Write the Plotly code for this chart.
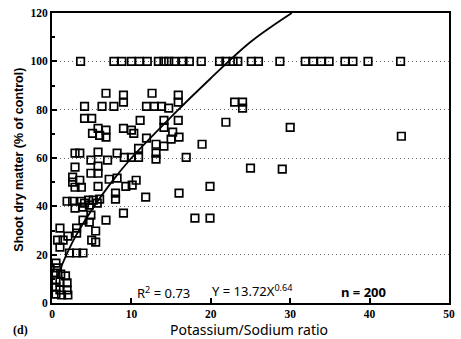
import plotly.graph_objects as go

# ---- data ----
# points at 100 % of control
top_x = [3.6, 7.8, 8.8, 10.0, 11.0, 12.0, 13.4, 14.1, 14.7, 15.4, 16.5, 17.3, 18.8,
         21.1, 21.9, 22.8, 23.4, 25.1, 26.0, 28.7, 31.9, 32.9, 33.9, 34.9, 36.9,
         37.9, 39.8, 43.9]
top_y = [100] * len(top_x)

pts_x = [6.8, 9.0, 9.0, 12.6, 15.9, 15.9, 4.1, 6.3, 7.8, 11.9, 12.9, 13.8, 14.7,
         23.0, 24.0, 24.0,
         4.1, 5.0, 11.1, 14.1, 15.9, 21.9, 30.0, 14.1, 5.8, 6.8, 5.1, 6.0, 6.8,
         9.0, 10.0, 10.3, 15.2, 16.0, 15.0, 11.9, 44.0,
         2.9, 3.5, 5.8, 4.9, 7.0, 8.2, 9.1, 10.0, 10.9, 10.9, 13.1, 13.1, 14.1,
         13.1, 18.9, 16.9,
         2.9, 5.8, 4.9, 5.8, 2.6, 2.6, 3.5, 3.7, 2.9, 5.8, 7.2, 8.2, 9.3, 10.1,
         10.6, 8.0, 8.0, 11.8, 25.0, 29.0, 19.9, 16.0, 1.9, 2.6, 3.7, 4.6, 5.2,
         6.0, 4.1, 5.7, 2.9, 3.9, 4.7,
         9.0, 3.9, 4.9, 4.7, 6.8, 18.0, 19.9, 1.0, 3.1, 3.1, 2.0, 5.5, 5.0, 5.5,
         0.7, 1.4, 1.0, 2.2, 3.1, 3.9,
         0.5, 0.7, 0.5, 1.1, 1.7, 0.5, 1.0, 1.9, 0.5, 1.0, 1.9, 0.5, 1.2, 2.0]
pts_y = [86.8, 86.0, 83.1, 86.8, 86.0, 83.1, 81.4, 81.4, 81.4, 81.4, 81.4, 81.4, 80.6,
         83.1, 83.1, 80.6,
         76.4, 76.4, 75.6, 75.6, 75.6, 74.8, 72.7, 72.7, 72.3, 71.5, 70.2, 69.4, 68.6,
         72.3, 71.5, 70.2, 70.7, 68.6, 67.8, 68.2, 69.0,
         62.0, 62.0, 62.4, 59.1, 59.1, 62.0, 60.3, 60.3, 60.3, 64.0, 62.0, 59.5, 64.9,
         65.7, 65.7, 60.3,
         56.2, 56.6, 53.7, 53.7, 52.1, 50.0, 50.8, 47.9, 47.9, 48.3, 51.2, 51.7, 48.3, 48.8,
         50.8, 45.5, 43.0, 43.8, 55.8, 55.4, 48.3, 45.5, 42.1, 42.1, 42.1, 42.6, 42.6,
         43.0, 41.3, 41.3, 39.3, 39.7, 40.5,
         37.2, 34.3, 36.4, 33.5, 34.3, 35.1, 35.1, 31.0, 31.0, 28.9, 27.7, 29.8, 26.0, 25.2,
         26.0, 26.0, 23.1, 20.7, 20.7, 20.7,
         16.5, 14.5, 12.4, 12.0, 11.2, 9.5, 8.7, 8.3, 6.6, 5.4, 5.4, 3.7, 3.3, 3.3]

# regression curve
fit_x = [0.7, 1, 2, 3, 5, 7.5, 10, 15, 20, 25, 30.2]
fit_y = [11.0, 13.7, 21.3, 27.8, 38.5, 50.0, 60.0, 77.0, 93.0, 108.0, 120.0]

x_ticks = [0, 10, 20, 30, 40, 50]
y_ticks = [0, 20, 40, 60, 80, 100, 120]

fig = go.Figure()
fig.add_trace(go.Scatter(x=fit_x, y=fit_y, mode="lines",
                         line=dict(color="black", width=1.8, shape="spline"),
                         hoverinfo="skip", showlegend=False))
fig.add_trace(go.Scatter(x=top_x + pts_x, y=top_y + pts_y, mode="markers",
                         marker=dict(symbol="square-open", size=7.5, color="black",
                                     line=dict(width=1.7, color="black")),
                         showlegend=False))

tickfont = dict(family="Liberation Serif", size=11.5, color="black", weight="bold")

fig.update_xaxes(range=[0, 50], tickvals=x_ticks, ticks="inside", ticklen=5,
                 tickwidth=1.5, tickcolor="black", showline=True, linecolor="black",
                 linewidth=1.8, mirror=True, showgrid=False, zeroline=False,
                 tickfont=tickfont, ticklabelstandoff=-1)
fig.update_yaxes(range=[0, 120], tickvals=y_ticks, ticks="inside", ticklen=5,
                 tickwidth=1.5, tickcolor="black", showline=True, linecolor="black",
                 linewidth=1.8, mirror=True, showgrid=True, gridcolor="#666666",
                 griddash="1px,3px", gridwidth=1, zeroline=False, tickfont=tickfont,
                 minor=dict(dtick=10, ticks="inside", ticklen=3, tickcolor="black",
                            showgrid=False))

ann_font = dict(family="Noto Sans", size=13, color="black")
fig.update_layout(
    width=461, height=339,
    margin=dict(l=52, r=6, t=13, b=36),
    paper_bgcolor="white", plot_bgcolor="white",
    annotations=[
        dict(text="R<sup>2</sup> = 0.73", x=14.1, y=4.5, xref="x", yref="y",
             showarrow=False, font=ann_font),
        dict(text="Y = 13.72X<sup>0.64</sup>", x=25.3, y=5.0, xref="x", yref="y",
             showarrow=False, font=ann_font),
        dict(text="n = 200", x=39.2, y=4.5, xref="x", yref="y",
             showarrow=False, font=dict(family="Noto Sans", size=13, color="black", weight="bold")),
        dict(text="Potassium/Sodium ratio", x=0.496, y=-0.093, xref="paper", yref="paper",
             showarrow=False, yanchor="middle",
             font=dict(family="Noto Sans", size=14, color="black")),
        dict(text="Shoot dry matter (% of control)", x=-0.084, y=0.493, xref="paper",
             yref="paper", showarrow=False, textangle=-90, xanchor="center",
             yanchor="middle",
             font=dict(family="Liberation Sans", size=12.5, color="black", weight="bold")),
        dict(text="(d)", x=-0.079, y=-0.092, xref="paper", yref="paper",
             showarrow=False, xanchor="center", yanchor="middle",
             font=dict(family="Liberation Serif", size=12, color="black", weight="bold")),
    ],
)

fig.write_html("out.html")
